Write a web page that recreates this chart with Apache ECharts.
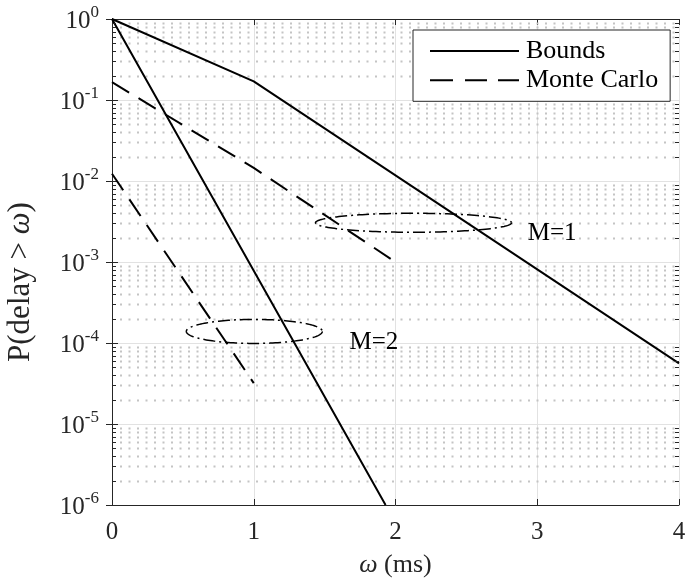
<!DOCTYPE html>
<html><head><meta charset="utf-8">
<script src="https://cdn.jsdelivr.net/npm/echarts@6/dist/echarts.min.js"></script>
<style>html,body{margin:0;padding:0;background:#fff}#c{width:685px;height:587px}</style>
</head><body><div id="c"></div>
<script>
// ---- data ----
const omegaTicks = [0, 1, 2, 3, 4];
const boundsM1_x = [0, 1, 4];
const boundsM1_y = [1, 0.17, 5.6e-5];
const boundsM2_x = [0, 1, 1.93];
const boundsM2_y = [1, 7.8e-4, 1e-6];
const mcM1_x = [0, 1, 2];
const mcM1_y = [0.166, 0.0145, 1e-3];
const mcM2_x = [0, 1];
const mcM2_y = [0.0123, 3.2e-5];
const decadeExps = [-6, -5, -4, -3, -2, -1, 0];
const minorMult = [2, 3, 4, 5, 6, 7, 8, 9];
const seriesNames = ['Bounds', 'Monte Carlo'];
const annLabels = ['M=1', 'M=2'];

// annotation placement (data coords)
const annotations = [
  { text: annLabels[0], cx: 2.127, cy: 3.05e-3, rx: 98, ry: 9.5, lx: 2.933, ly: 2.26e-3 },
  { text: annLabels[1], cx: 1.004, cy: 1.39e-4, rx: 68, ry: 12, lx: 1.675, ly: 1.02e-4 }
];

const FONT = 'Liberation Serif';
const TXT = '#262626';
const pair = (xs, ys) => xs.map((x, i) => [x, ys[i]]);

const minorVals = [];
decadeExps.slice(0, -1).forEach(e => minorMult.forEach(m => minorVals.push(m * Math.pow(10, e))));

const chart = echarts.init(document.getElementById('c'), null, { renderer: 'canvas' });

const yLabelFmt = v => {
  const e = Math.round(Math.log10(v));
  return '{b|10}{s|' + e + '}';
};

const solid = { color: '#000', width: 2, type: 'solid' };
const dashed = { color: '#000', width: 2, type: [20, 11] };

const solidIcon = 'path://M0,0 L89,0 L89,2 L0,2 Z';
const dashIcon = 'path://M0,0 L23,0 L23,2 L0,2 Z M35,0 L57,0 L57,2 L35,2 Z M68,0 L89,0 L89,2 L68,2 Z';

chart.setOption({
  animation: false,
  backgroundColor: '#fff',
  grid: { left: 112, right: 6, top: 19, bottom: 82, outerBoundsMode: 'none', containLabel: false },
  legend: {
    data: [
      { name: seriesNames[0], icon: solidIcon },
      { name: seriesNames[1], icon: dashIcon }
    ],
    orient: 'vertical',
    left: 413, top: 30,
    padding: [8, 12, 8, 17],
    itemGap: 3.3,
    itemWidth: 89, itemHeight: 2,
    borderColor: '#262626', borderWidth: 1,
    backgroundColor: '#fff',
    itemStyle: { color: '#000', borderWidth: 0 },
    textStyle: { fontFamily: FONT, fontSize: 26, lineHeight: 26, color: '#000', padding: [0, 0, 0, 2] }
  },
  xAxis: [{
    type: 'value', min: 0, max: 4, interval: 1,
    name: '{i|ω} (ms)', nameLocation: 'middle', nameGap: 47,
    nameTextStyle: { fontFamily: FONT, fontSize: 26, color: TXT,
      rich: { i: { fontFamily: FONT, fontStyle: 'italic', fontSize: 26, color: TXT } } },
    axisLine: { show: true, lineStyle: { color: TXT, width: 1 } },
    axisTick: { show: true, inside: true, length: 6, lineStyle: { color: TXT } },
    axisLabel: { fontFamily: FONT, fontSize: 25, color: TXT, margin: 15 },
    splitLine: { show: true, lineStyle: { color: '#e2e2e2', width: 1 } }
  }, {
    type: 'value', min: 0, max: 4, interval: 1, position: 'top',
    axisLine: { show: true, lineStyle: { color: TXT, width: 1 } },
    axisTick: { show: true, inside: true, length: 6, lineStyle: { color: TXT } },
    axisLabel: { show: false }, splitLine: { show: false }
  }],
  yAxis: [{
    type: 'log', logBase: 10, min: 1e-6, max: 1, splitNumber: 6,
    name: 'P(delay > {i|ω})', nameLocation: 'middle', nameGap: 76,
    nameTextStyle: { fontFamily: FONT, fontSize: 31, color: TXT, padding: [0, 40, 0, 0],
      rich: { i: { fontFamily: FONT, fontStyle: 'italic', fontSize: 31, color: TXT } } },
    axisLine: { show: true, lineStyle: { color: TXT, width: 1 } },
    axisTick: { show: true, inside: true, length: 6, lineStyle: { color: TXT } },
    axisLabel: {
      formatter: yLabelFmt, margin: 13, color: TXT,
      rich: {
        b: { fontFamily: FONT, fontSize: 25, color: TXT, verticalAlign: 'bottom' },
        s: { fontFamily: FONT, fontSize: 17, color: TXT, verticalAlign: 'bottom', padding: [0, 0, 13, 0] }
      }
    },
    splitLine: { show: true, lineStyle: { color: '#e2e2e2', width: 1 } }
  }, {
    type: 'log', logBase: 10, min: 1e-6, max: 1, splitNumber: 6, position: 'right',
    axisLine: { show: true, lineStyle: { color: TXT, width: 1 } },
    axisTick: { show: true, inside: true, length: 6, lineStyle: { color: TXT } },
    axisLabel: { show: false }, splitLine: { show: false }
  }],
  series: [
    { name: seriesNames[0], type: 'line', data: pair(boundsM1_x, boundsM1_y), showSymbol: false, symbol: 'none', lineStyle: solid, itemStyle: { color: '#000' }, z: 3 },
    { name: seriesNames[0], type: 'line', data: pair(boundsM2_x, boundsM2_y), showSymbol: false, symbol: 'none', lineStyle: solid, itemStyle: { color: '#000' }, z: 3 },
    { name: seriesNames[1], type: 'line', data: pair(mcM1_x, mcM1_y), showSymbol: false, symbol: 'none', lineStyle: dashed, itemStyle: { color: '#000' }, z: 3 },
    { name: seriesNames[1], type: 'line', data: pair(mcM2_x, mcM2_y), showSymbol: false, symbol: 'none', lineStyle: dashed, itemStyle: { color: '#000' }, z: 3 }
  ]
});

// minor grid, minor ticks, ellipses and labels as graphics
const g = [];
const x0 = chart.convertToPixel({ gridIndex: 0 }, [0, 1])[0];
const x1 = chart.convertToPixel({ gridIndex: 0 }, [4, 1])[0];
minorVals.forEach(v => {
  const y = Math.round(chart.convertToPixel({ gridIndex: 0 }, [0, v])[1]) + 0.5;
  g.push({ type: 'line', shape: { x1: x0 + 8, y1: y, x2: x1 - 1, y2: y }, style: { stroke: '#c4c4c4', lineWidth: 2, lineDash: [2, 6.5] }, z: 1, silent: true });
  g.push({ type: 'line', shape: { x1: x0, y1: y, x2: x0 + 4, y2: y }, style: { stroke: TXT, lineWidth: 1 }, z: 10, silent: true });
  g.push({ type: 'line', shape: { x1: x1 - 4, y1: y, x2: x1, y2: y }, style: { stroke: TXT, lineWidth: 1 }, z: 10, silent: true });
});
annotations.forEach(a => {
  const c = chart.convertToPixel({ gridIndex: 0 }, [a.cx, a.cy]);
  const pts = [];
  for (let k = 0; k <= 160; k++) {
    const t = (k / 160) * Math.PI * 2;
    pts.push([c[0] + a.rx * Math.cos(t), c[1] + a.ry * Math.sin(t)]);
  }
  g.push({ type: 'polyline', shape: { points: pts }, style: { stroke: '#000', lineWidth: 1.5, fill: null, lineDash: [12, 4, 2, 4] }, z: 10, silent: true });
  const l = chart.convertToPixel({ gridIndex: 0 }, [a.lx, a.ly]);
  g.push({ type: 'text', x: l[0], y: l[1], style: { text: a.text, font: '25px "Liberation Serif"', fill: '#000', align: 'left', verticalAlign: 'middle' }, z: 10, silent: true });
});
chart.setOption({ graphic: g });
</script>
</body></html>
